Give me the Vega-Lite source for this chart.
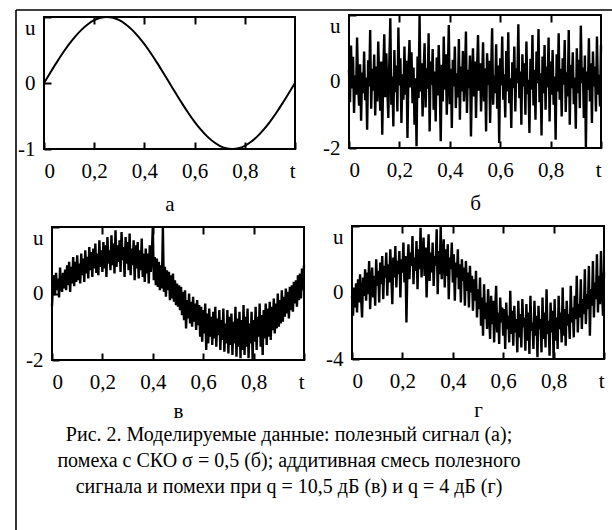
{
"$schema": "https://vega.github.io/schema/vega-lite/v6.json",
"width": 596, "height": 520,
"autosize": {"type": "none"},
"padding": {"left": 16, "top": 10, "right": 0, "bottom": 0},
"background": "white",
"title": {"text": ["Рис. 2. Моделируемые данные: полезный сигнал (а);", "помеха с СКО σ = 0,5 (б); аддитивная смесь полезного", "сигнала и помехи при q = 10,5 дБ (в) и q = 4 дБ (г)"], "orient": "top", "anchor": "middle", "frame": "group", "offset": -488, "dx": -25, "baseline": "top", "font": "Liberation Serif, Times New Roman, serif", "fontSize": 20, "fontWeight": "normal", "color": "black", "lineHeight": 26},
"datasets": {
"sig": [{"t":0,"u":0},{"t":0.025,"u":0.156},{"t":0.05,"u":0.309},{"t":0.075,"u":0.454},{"t":0.1,"u":0.588},{"t":0.125,"u":0.707},{"t":0.15,"u":0.809},{"t":0.175,"u":0.891},{"t":0.2,"u":0.951},{"t":0.225,"u":0.988},{"t":0.25,"u":1},{"t":0.275,"u":0.988},{"t":0.3,"u":0.951},{"t":0.325,"u":0.891},{"t":0.35,"u":0.809},{"t":0.375,"u":0.707},{"t":0.4,"u":0.588},{"t":0.425,"u":0.454},{"t":0.45,"u":0.309},{"t":0.475,"u":0.156},{"t":0.5,"u":0},{"t":0.525,"u":-0.156},{"t":0.55,"u":-0.309},{"t":0.575,"u":-0.454},{"t":0.6,"u":-0.588},{"t":0.625,"u":-0.707},{"t":0.65,"u":-0.809},{"t":0.675,"u":-0.891},{"t":0.7,"u":-0.951},{"t":0.725,"u":-0.988},{"t":0.75,"u":-1},{"t":0.775,"u":-0.988},{"t":0.8,"u":-0.951},{"t":0.825,"u":-0.891},{"t":0.85,"u":-0.809},{"t":0.875,"u":-0.707},{"t":0.9,"u":-0.588},{"t":0.925,"u":-0.454},{"t":0.95,"u":-0.309},{"t":0.975,"u":-0.156},{"t":1,"u":0}],
"noisy": [
{"t":0,"b":0.35,"c":-0.38,"d":-0.2},{"t":0.004,"b":-0.62,"c":0.28,"d":-1.4},{"t":0.008,"b":1.08,"c":0.55,"d":0.3},{"t":0.012,"b":-0.21,"c":-0.05,"d":-0.9},{"t":0.016,"b":0.74,"c":0.62,"d":0.55},
{"t":0.02,"b":-0.95,"c":0.1,"d":-1.2},{"t":0.024,"b":0.18,"c":0.45,"d":0.8},{"t":0.028,"b":-0.4,"c":-0.12,"d":-0.6},{"t":0.032,"b":1.32,"c":0.78,"d":1.1},{"t":0.036,"b":-0.08,"c":0.2,"d":-0.3},
{"t":0.04,"b":-0.73,"c":0.05,"d":-1.5},{"t":0.044,"b":0.52,"c":0.62,"d":0.9},{"t":0.048,"b":-1.18,"c":0.15,"d":-0.2},{"t":0.052,"b":0.27,"c":0.72,"d":1.4},{"t":0.056,"b":-0.35,"c":0.1,"d":-0.5},
{"t":0.06,"b":0.9,"c":0.85,"d":1.2},{"t":0.064,"b":-0.56,"c":0.25,"d":-0.1},{"t":0.068,"b":0.12,"c":0.95,"d":1.9},{"t":0.072,"b":-1.45,"c":0.05,"d":-1.0},{"t":0.076,"b":0.64,"c":0.8,"d":0.6},
{"t":0.08,"b":-0.15,"c":0.3,"d":1.5},{"t":0.084,"b":1.55,"c":1.1,"d":-0.3},{"t":0.088,"b":-0.82,"c":0.22,"d":1.0},{"t":0.092,"b":0.38,"c":0.95,"d":-0.8},{"t":0.096,"b":-0.28,"c":0.35,"d":2.0},
{"t":0.1,"b":0.81,"c":1.15,"d":0.4},{"t":0.104,"b":-1.02,"c":0.4,"d":1.3},{"t":0.108,"b":0.45,"c":0.9,"d":-0.6},{"t":0.112,"b":-0.6,"c":0.3,"d":1.8},{"t":0.116,"b":1.2,"c":1.2,"d":0.5},
{"t":0.12,"b":0.05,"c":0.55,"d":2.2},{"t":0.124,"b":-0.88,"c":1.05,"d":-0.4},{"t":0.128,"b":0.6,"c":0.35,"d":1.6},{"t":0.132,"b":-1.6,"c":1.3,"d":0.9},{"t":0.136,"b":0.3,"c":0.6,"d":2.4},
{"t":0.14,"b":1.42,"c":1.1,"d":-0.2},{"t":0.144,"b":-0.47,"c":0.45,"d":1.7},{"t":0.148,"b":0.85,"c":1.4,"d":0.6},{"t":0.152,"b":-0.2,"c":0.7,"d":2.6},{"t":0.156,"b":-1.1,"c":1.25,"d":1.0},
{"t":0.16,"b":0.58,"c":0.5,"d":-0.7},{"t":0.164,"b":1.9,"c":1.35,"d":2.1},{"t":0.168,"b":-0.7,"c":0.75,"d":0.9},{"t":0.172,"b":0.15,"c":1.5,"d":2.8},{"t":0.176,"b":-1.35,"c":0.62,"d":0.3},
{"t":0.18,"b":0.95,"c":1.2,"d":1.9},{"t":0.184,"b":-0.32,"c":0.55,"d":1.1},{"t":0.188,"b":0.48,"c":1.6,"d":2.5},{"t":0.192,"b":-0.9,"c":0.8,"d":-0.3},{"t":0.196,"b":1.62,"c":1.3,"d":2.0},
{"t":0.2,"b":-0.12,"c":0.65,"d":1.2},{"t":0.204,"b":0.7,"c":1.55,"d":3.0},{"t":0.208,"b":-1.25,"c":0.75,"d":0.6},{"t":0.212,"b":0.22,"c":1.45,"d":2.2},{"t":0.216,"b":-0.55,"c":0.5,"d":-1.8},
{"t":0.22,"b":1.05,"c":1.7,"d":1.5},{"t":0.224,"b":-0.4,"c":0.9,"d":2.9},{"t":0.228,"b":0.62,"c":1.3,"d":0.8},{"t":0.232,"b":-1.7,"c":0.7,"d":2.4},{"t":0.236,"b":0.35,"c":1.75,"d":1.6},
{"t":0.24,"b":1.25,"c":0.85,"d":3.4},{"t":0.244,"b":-0.18,"c":1.5,"d":0.5},{"t":0.248,"b":0.88,"c":0.6,"d":2.1},{"t":0.252,"b":-0.65,"c":1.9,"d":1.3},{"t":0.256,"b":0.42,"c":0.8,"d":3.1},
{"t":0.26,"b":-1.3,"c":1.45,"d":0.2},{"t":0.264,"b":0.1,"c":0.95,"d":2.6},{"t":0.268,"b":-1.95,"c":1.6,"d":1.4},{"t":0.272,"b":0.75,"c":0.65,"d":3.9},{"t":0.276,"b":-0.5,"c":1.85,"d":0.9},
{"t":0.28,"b":1.98,"c":1.0,"d":2.3},{"t":0.284,"b":-0.3,"c":1.4,"d":3.3},{"t":0.288,"b":0.55,"c":0.5,"d":1.0},{"t":0.292,"b":-1.05,"c":1.7,"d":2.7},{"t":0.296,"b":0.28,"c":0.9,"d":-0.3},
{"t":0.3,"b":1.15,"c":1.55,"d":1.9},{"t":0.304,"b":-0.78,"c":0.7,"d":3.5},{"t":0.308,"b":0.4,"c":1.8,"d":0.7},{"t":0.312,"b":-0.22,"c":0.55,"d":2.4},{"t":0.316,"b":1.45,"c":1.35,"d":1.2},
{"t":0.32,"b":-1.5,"c":0.85,"d":3.0},{"t":0.324,"b":0.6,"c":1.6,"d":0.4},{"t":0.328,"b":-0.1,"c":0.4,"d":2.2},{"t":0.332,"b":0.98,"c":1.45,"d":1.6},{"t":0.336,"b":-0.85,"c":0.75,"d":3.8},
{"t":0.34,"b":0.3,"c":1.55,"d":-0.1},{"t":0.344,"b":-1.2,"c":0.45,"d":2.5},{"t":0.348,"b":0.72,"c":1.3,"d":1.1},{"t":0.352,"b":-0.42,"c":0.7,"d":4.0},{"t":0.356,"b":1.1,"c":1.65,"d":0.8},
{"t":0.36,"b":-0.05,"c":0.5,"d":2.0},{"t":0.364,"b":-1.8,"c":1.2,"d":3.2},{"t":0.368,"b":0.5,"c":0.35,"d":0.3},{"t":0.372,"b":-0.6,"c":1.35,"d":2.6},{"t":0.376,"b":1.35,"c":0.6,"d":1.0},
{"t":0.38,"b":-0.25,"c":1.2,"d":2.9},{"t":0.384,"b":0.82,"c":0.3,"d":-0.4},{"t":0.388,"b":-1.0,"c":1.45,"d":2.1},{"t":0.392,"b":0.2,"c":0.65,"d":1.4},{"t":0.396,"b":1.7,"c":1.15,"d":3.0},
{"t":0.4,"b":-0.68,"c":2.0,"d":0.6},{"t":0.404,"b":0.38,"c":0.4,"d":2.3},{"t":0.408,"b":-1.4,"c":1.1,"d":-0.5},{"t":0.412,"b":0.65,"c":0.25,"d":1.8},{"t":0.416,"b":-0.15,"c":1.05,"d":0.9},
{"t":0.42,"b":1.05,"c":0.2,"d":2.6},{"t":0.424,"b":-0.8,"c":0.95,"d":0.2},{"t":0.428,"b":0.25,"c":0.1,"d":1.7},{"t":0.432,"b":-0.48,"c":0.85,"d":-0.6},{"t":0.436,"b":1.28,"c":0.15,"d":2.0},
{"t":0.44,"b":-1.15,"c":2.0,"d":0.7},{"t":0.444,"b":0.45,"c":0.05,"d":1.5},{"t":0.448,"b":-0.3,"c":0.8,"d":-0.8},{"t":0.452,"b":0.92,"c":-0.1,"d":1.9},{"t":0.456,"b":-0.6,"c":0.7,"d":0.1},
{"t":0.46,"b":0.08,"c":0.1,"d":1.2},{"t":0.464,"b":1.5,"c":0.65,"d":-0.9},{"t":0.468,"b":-0.95,"c":-0.2,"d":1.6},{"t":0.472,"b":0.35,"c":0.55,"d":0.0},{"t":0.476,"b":-0.2,"c":-0.15,"d":1.0},
{"t":0.48,"b":0.78,"c":0.6,"d":-1.1},{"t":0.484,"b":-1.65,"c":-0.25,"d":0.8},{"t":0.488,"b":0.15,"c":0.4,"d":-0.5},{"t":0.492,"b":1.0,"c":-0.35,"d":1.3},{"t":0.496,"b":-0.45,"c":0.3,"d":-1.5},
{"t":0.5,"b":0.6,"c":-0.4,"d":0.2},{"t":0.504,"b":-1.1,"c":0.25,"d":-1.0},{"t":0.508,"b":0.32,"c":-0.5,"d":0.9},{"t":0.512,"b":1.4,"c":0.2,"d":-2.0},{"t":0.516,"b":-0.28,"c":-0.65,"d":-0.3},
{"t":0.52,"b":0.55,"c":0.05,"d":-2.6},{"t":0.524,"b":-0.9,"c":-0.8,"d":0.5},{"t":0.528,"b":0.05,"c":0.1,"d":-1.6},{"t":0.532,"b":1.18,"c":-1.05,"d":-0.6},{"t":0.536,"b":-0.6,"c":-0.2,"d":-2.2},
{"t":0.54,"b":0.4,"c":-0.75,"d":0.2},{"t":0.544,"b":-1.5,"c":0.0,"d":-1.2},{"t":0.548,"b":0.85,"c":-0.9,"d":-2.8},{"t":0.552,"b":-0.1,"c":-0.25,"d":-0.2},{"t":0.556,"b":0.62,"c":-1.0,"d":-1.9},
{"t":0.56,"b":-1.25,"c":-0.1,"d":-0.5},{"t":0.564,"b":0.3,"c":-0.85,"d":-3.0},{"t":0.568,"b":1.6,"c":-0.3,"d":-1.0},{"t":0.572,"b":-0.7,"c":-1.1,"d":0.4},{"t":0.576,"b":0.18,"c":-0.2,"d":-2.4},
{"t":0.58,"b":-0.35,"c":-0.95,"d":-1.2},{"t":0.584,"b":1.12,"c":-0.35,"d":-3.1},{"t":0.588,"b":-0.82,"c":-1.3,"d":-0.3},{"t":0.592,"b":0.48,"c":-0.4,"d":-1.8},{"t":0.596,"b":-1.85,"c":-1.45,"d":-0.9},
{"t":0.6,"b":0.7,"c":-0.5,"d":-2.6},{"t":0.604,"b":-0.12,"c":-1.2,"d":-1.0},{"t":0.608,"b":1.35,"c":-0.3,"d":-3.4},{"t":0.612,"b":-0.55,"c":-1.7,"d":-0.6},{"t":0.616,"b":0.22,"c":-0.6,"d":-2.2},
{"t":0.62,"b":-1.08,"c":-1.5,"d":-1.4},{"t":0.624,"b":0.92,"c":-0.45,"d":-3.0},{"t":0.628,"b":-0.3,"c":-1.3,"d":0.1},{"t":0.632,"b":1.48,"c":-0.7,"d":-2.5},{"t":0.636,"b":-0.65,"c":-1.55,"d":-1.1},
{"t":0.64,"b":0.1,"c":-0.55,"d":-3.2},{"t":0.644,"b":-1.4,"c":-1.35,"d":-0.8},{"t":0.648,"b":0.58,"c":-0.4,"d":-2.4},{"t":0.652,"b":-0.2,"c":-1.6,"d":-1.6},{"t":0.656,"b":1.05,"c":-0.75,"d":-3.6},
{"t":0.66,"b":-0.9,"c":-1.25,"d":-0.5},{"t":0.664,"b":0.4,"c":-0.5,"d":-2.7},{"t":0.668,"b":-0.05,"c":-1.7,"d":-1.3},{"t":0.672,"b":1.72,"c":-0.8,"d":-3.3},{"t":0.676,"b":-0.5,"c":-1.4,"d":-0.4},
{"t":0.68,"b":0.3,"c":-0.45,"d":-2.1},{"t":0.684,"b":-1.3,"c":-1.75,"d":-1.5},{"t":0.688,"b":0.82,"c":-0.9,"d":-3.5},{"t":0.692,"b":-0.15,"c":-1.5,"d":-0.7},{"t":0.696,"b":0.55,"c":-0.5,"d":-2.9},
{"t":0.7,"b":-1.0,"c":-1.8,"d":-1.2},{"t":0.704,"b":1.2,"c":-0.7,"d":-3.7},{"t":0.708,"b":-0.38,"c":-1.55,"d":-0.2},{"t":0.712,"b":0.05,"c":-0.6,"d":-2.3},{"t":0.716,"b":-1.55,"c":-1.85,"d":-1.8},
{"t":0.72,"b":0.68,"c":-0.85,"d":-3.4},{"t":0.724,"b":-0.25,"c":-1.5,"d":-0.5},{"t":0.728,"b":1.4,"c":-0.4,"d":-2.6},{"t":0.732,"b":-0.72,"c":-1.9,"d":-1.4},{"t":0.736,"b":0.35,"c":-0.75,"d":-3.9},
{"t":0.74,"b":-1.15,"c":-1.6,"d":-0.8},{"t":0.744,"b":0.9,"c":-0.55,"d":-2.2},{"t":0.748,"b":-0.05,"c":-1.95,"d":-1.6},{"t":0.752,"b":1.58,"c":-0.8,"d":-3.6},{"t":0.756,"b":-0.62,"c":-1.7,"d":-0.3},
{"t":0.76,"b":0.25,"c":-0.35,"d":-2.8},{"t":0.764,"b":-1.62,"c":-1.85,"d":-1.2},{"t":0.768,"b":0.75,"c":-0.7,"d":-3.3},{"t":0.772,"b":-0.35,"c":-1.6,"d":0.2},{"t":0.776,"b":1.1,"c":-0.45,"d":-2.5},
{"t":0.78,"b":-0.85,"c":-1.95,"d":-1.7},{"t":0.784,"b":0.45,"c":-0.9,"d":-3.8},{"t":0.788,"b":-0.18,"c":-1.5,"d":-0.6},{"t":0.792,"b":1.32,"c":-0.55,"d":-2.4},{"t":0.796,"b":-1.2,"c":-1.98,"d":-1.1},
{"t":0.8,"b":0.6,"c":-0.8,"d":-4.0},{"t":0.804,"b":-0.4,"c":-1.45,"d":-0.4},{"t":0.808,"b":0.95,"c":-0.4,"d":-2.9},{"t":0.812,"b":-0.7,"c":-1.7,"d":-1.5},{"t":0.816,"b":0.15,"c":-0.7,"d":-3.4},
{"t":0.82,"b":-1.75,"c":-1.3,"d":-0.2},{"t":0.824,"b":0.82,"c":-0.3,"d":-2.2},{"t":0.828,"b":-0.3,"c":-1.6,"d":-1.2},{"t":0.832,"b":1.45,"c":-0.65,"d":-3.0},{"t":0.836,"b":-0.55,"c":-1.85,"d":0.3},
{"t":0.84,"b":0.38,"c":-0.5,"d":-2.6},{"t":0.844,"b":-1.05,"c":-1.35,"d":-1.0},{"t":0.848,"b":0.7,"c":-0.3,"d":-3.2},{"t":0.852,"b":-0.1,"c":-1.55,"d":-0.5},{"t":0.856,"b":1.25,"c":-0.45,"d":-2.0},
{"t":0.86,"b":-0.92,"c":-1.3,"d":-1.3},{"t":0.864,"b":0.28,"c":-0.25,"d":-2.8},{"t":0.868,"b":-0.45,"c":-1.4,"d":0.4},{"t":0.872,"b":1.55,"c":-0.4,"d":-1.8},{"t":0.876,"b":-1.3,"c":-1.1,"d":-0.9},
{"t":0.88,"b":0.5,"c":-0.15,"d":-2.7},{"t":0.884,"b":-0.2,"c":-1.2,"d":-0.2},{"t":0.888,"b":0.88,"c":-0.3,"d":-1.6},{"t":0.892,"b":-0.68,"c":-1.05,"d":1.0},{"t":0.896,"b":0.12,"c":0.0,"d":-2.4},
{"t":0.9,"b":-1.42,"c":-1.0,"d":-0.7},{"t":0.904,"b":1.0,"c":-0.2,"d":-1.5},{"t":0.908,"b":-0.35,"c":-0.9,"d":0.8},{"t":0.912,"b":0.65,"c":0.1,"d":-2.2},{"t":0.916,"b":-0.8,"c":-0.85,"d":-0.4},
{"t":0.92,"b":1.68,"c":-0.1,"d":-1.3},{"t":0.924,"b":-0.05,"c":-0.7,"d":1.4},{"t":0.928,"b":0.42,"c":0.15,"d":-1.9},{"t":0.932,"b":-1.1,"c":-0.6,"d":-0.1},{"t":0.936,"b":0.78,"c":0.05,"d":-1.0},
{"t":0.94,"b":-1.98,"c":-0.75,"d":1.6},{"t":0.944,"b":0.3,"c":0.2,"d":-2.6},{"t":0.948,"b":-0.25,"c":-0.5,"d":0.2},{"t":0.952,"b":1.3,"c":0.25,"d":-0.8},{"t":0.956,"b":-0.6,"c":-0.55,"d":1.9},
{"t":0.96,"b":0.55,"c":0.35,"d":-1.5},{"t":0.964,"b":-1.25,"c":-0.3,"d":0.6},{"t":0.968,"b":0.9,"c":0.4,"d":-0.4},{"t":0.972,"b":-0.15,"c":-0.4,"d":2.3},{"t":0.976,"b":0.45,"c":0.55,"d":-1.2},
{"t":0.98,"b":-0.9,"c":-0.2,"d":1.0},{"t":0.984,"b":1.35,"c":0.6,"d":-0.7},{"t":0.988,"b":-0.4,"c":-0.15,"d":2.5},{"t":0.992,"b":0.2,"c":0.75,"d":0.3},{"t":0.996,"b":-0.75,"c":0.1,"d":-1.4},
{"t":1,"b":1.1,"c":0.85,"d":1.2}
]
},
"resolve": {"scale": {"x": "independent", "y": "independent"}, "axis": {"x": "independent", "y": "independent"}},
"layer": [
{"data": {"values": [{}]}, "mark": {"type": "rule", "color": "black", "strokeWidth": 1.6}, "encoding": {"x": {"datum": 0, "type": "quantitative", "scale": {"domain": [0, 1]}, "axis": null}}},
{"data": {"values": [{}]}, "mark": {"type": "rule", "color": "black", "strokeWidth": 1.6}, "encoding": {"y": {"datum": 1, "type": "quantitative", "scale": {"domain": [0, 1]}, "axis": null}}},
{"data": {"name": "sig"}, "layer": [
 {"mark": {"type": "line", "color": "black", "strokeWidth": 2, "interpolate": "monotone"},
  "encoding": {
   "x": {"field": "t", "type": "quantitative", "scale": {"domain": [0, 1], "range": [28, 279]}, "axis": {"orient": "bottom", "offset": -381, "values": [0, 0.2, 0.4, 0.6, 0.8, 1], "labelExpr": "datum.value == 0 ? '0' : datum.value == 1 ? 't' : replace(format(datum.value, '.1f'), '.', ',')", "title": "а", "titlePadding": 12}},
   "y": {"field": "u", "type": "quantitative", "scale": {"domain": [-1, 1], "range": [139, 7]}, "axis": {"orient": "left", "offset": -28, "values": [-1, 0, 1], "labelExpr": "datum.value > 0 ? 'u' : datum.value < 0 ? '-' + format(-datum.value, 'd') : '0'", "labelAlign": "right", "labelBaseline": {"condition": {"test": "datum.value > 0", "value": "top"}, "value": "middle"}, "title": null}}
  }},
 {"data": {"values": [{}]}, "mark": {"type": "rect", "filled": false, "color": "black", "strokeWidth": 2},
  "encoding": {
   "x": {"datum": 0, "type": "quantitative", "axis": {"orient": "top", "offset": -7, "values": [0.2, 0.4, 0.6, 0.8], "labels": false, "title": null}},
   "x2": {"datum": 1},
   "y": {"datum": -1, "type": "quantitative"},
   "y2": {"datum": 1}
  }}
]},
{"data": {"name": "noisy"}, "layer": [
 {"mark": {"type": "line", "color": "black", "strokeWidth": 2.4},
  "encoding": {
   "x": {"field": "t", "type": "quantitative", "scale": {"domain": [0, 1], "range": [333, 585]}, "axis": {"orient": "bottom", "offset": -382, "values": [0, 0.2, 0.4, 0.6, 0.8, 1], "labelExpr": "datum.value == 0 ? '0' : datum.value == 1 ? 't' : replace(format(datum.value, '.1f'), '.', ',')", "title": "б", "titlePadding": 12}},
   "y": {"field": "b", "type": "quantitative", "scale": {"domain": [-2, 2], "range": [138, 5]}, "axis": {"orient": "left", "offset": -333, "values": [-2, 0, 2], "labelExpr": "datum.value > 0 ? 'u' : datum.value < 0 ? '-' + format(-datum.value, 'd') : '0'", "labelAlign": "right", "labelBaseline": {"condition": {"test": "datum.value > 0", "value": "top"}, "value": "middle"}, "title": null}}
  }},
 {"data": {"values": [{}]}, "mark": {"type": "rect", "filled": false, "color": "black", "strokeWidth": 2},
  "encoding": {
   "x": {"datum": 0, "type": "quantitative", "axis": {"orient": "top", "offset": -5, "values": [0.2, 0.4, 0.6, 0.8], "labels": false, "title": null}},
   "x2": {"datum": 1},
   "y": {"datum": -2, "type": "quantitative"},
   "y2": {"datum": 2}
  }}
]},
{"data": {"name": "noisy"}, "layer": [
 {"mark": {"type": "line", "color": "black", "strokeWidth": 2.4},
  "encoding": {
   "x": {"field": "t", "type": "quantitative", "scale": {"domain": [0, 1], "range": [36, 288]}, "axis": {"orient": "bottom", "offset": -170, "values": [0, 0.2, 0.4, 0.6, 0.8, 1], "labelExpr": "datum.value == 0 ? '0' : datum.value == 1 ? 't' : replace(format(datum.value, '.1f'), '.', ',')", "title": "в", "titlePadding": 8}},
   "y": {"field": "c", "type": "quantitative", "scale": {"domain": [-2, 2], "range": [350, 217]}, "axis": {"orient": "left", "offset": -36, "values": [-2, 0, 2], "labelExpr": "datum.value > 0 ? 'u' : datum.value < 0 ? '-' + format(-datum.value, 'd') : '0'", "labelAlign": "right", "labelBaseline": {"condition": {"test": "datum.value > 0", "value": "top"}, "value": "middle"}, "title": null}}
  }},
 {"data": {"values": [{}]}, "mark": {"type": "rect", "filled": false, "color": "black", "strokeWidth": 2},
  "encoding": {
   "x": {"datum": 0, "type": "quantitative", "axis": {"orient": "top", "offset": -217, "values": [0.2, 0.4, 0.6, 0.8], "labels": false, "title": null}},
   "x2": {"datum": 1},
   "y": {"datum": -2, "type": "quantitative"},
   "y2": {"datum": 2}
  }}
]},
{"data": {"name": "noisy"}, "layer": [
 {"mark": {"type": "line", "color": "black", "strokeWidth": 2.4},
  "encoding": {
   "x": {"field": "t", "type": "quantitative", "scale": {"domain": [0, 1], "range": [336, 588]}, "axis": {"orient": "bottom", "offset": -171, "values": [0, 0.2, 0.4, 0.6, 0.8, 1], "labelExpr": "datum.value == 0 ? '0' : datum.value == 1 ? 't' : replace(format(datum.value, '.1f'), '.', ',')", "title": "г", "titlePadding": 8}},
   "y": {"field": "d", "type": "quantitative", "scale": {"domain": [-4, 4], "range": [349, 216]}, "axis": {"orient": "left", "offset": -336, "values": [-4, 0, 4], "labelExpr": "datum.value > 0 ? 'u' : datum.value < 0 ? '-' + format(-datum.value, 'd') : '0'", "labelAlign": "right", "labelBaseline": {"condition": {"test": "datum.value > 0", "value": "top"}, "value": "middle"}, "title": null}}
  }},
 {"data": {"values": [{}]}, "mark": {"type": "rect", "filled": false, "color": "black", "strokeWidth": 2},
  "encoding": {
   "x": {"datum": 0, "type": "quantitative", "axis": {"orient": "top", "offset": -216, "values": [0.2, 0.4, 0.6, 0.8], "labels": false, "title": null}},
   "x2": {"datum": 1},
   "y": {"datum": -4, "type": "quantitative"},
   "y2": {"datum": 4}
  }}
]}
],
"config": {
 "view": {"stroke": null},
 "axis": {"domain": false, "grid": false, "ticks": true, "tickColor": "black", "tickWidth": 2, "tickSize": -7, "labelColor": "black", "labelFont": "Liberation Serif, Times New Roman, serif", "labelFontSize": 21, "labelOverlap": false, "labelBound": false, "titleFont": "Liberation Serif, Times New Roman, serif", "titleFontSize": 21, "titleFontWeight": "normal", "titleColor": "black"},
 "axisX": {"labelPadding": 18, "labelFlush": true, "labelAngle": 0},
 "axisY": {"labelPadding": 16}
}
}
